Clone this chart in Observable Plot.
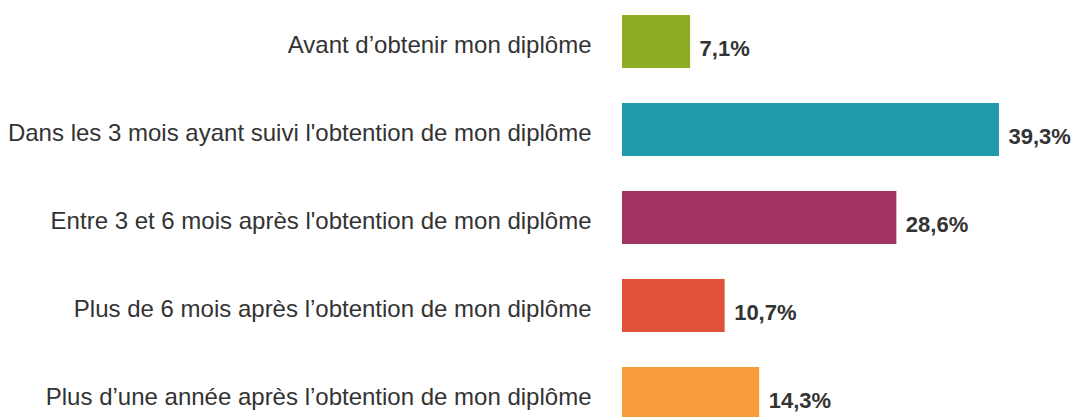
<!DOCTYPE html>
<html><head><meta charset="utf-8">
<script src="https://cdn.jsdelivr.net/npm/d3@7"></script>
<script src="https://cdn.jsdelivr.net/npm/@observablehq/plot@0.6"></script>
<style>html,body{margin:0;padding:0;background:#fff;overflow:hidden}</style>
</head><body><div id="chart"></div>
<script>
const categories = [
  "Avant d\u2019obtenir mon diplôme",
  "Dans les 3 mois ayant suivi l'obtention de mon diplôme",
  "Entre 3 et 6 mois après l'obtention de mon diplôme",
  "Plus de 6 mois après l\u2019obtention de mon diplôme",
  "Plus d\u2019une année après l\u2019obtention de mon diplôme"
];
const values = [7.1, 39.3, 28.6, 10.7, 14.3];
const colors = ["#8cad24", "#219bab", "#a23463", "#df5239", "#f89b3c"];

const data = categories.map((c, i) => ({cat: c, value: values[i], color: colors[i]}));
const fmt = v => v.toFixed(1).replace(".", ",") + "%";

const chart = Plot.plot({
  width: 1072,
  height: 417,
  marginTop: 0, marginBottom: 0, marginLeft: 622, marginRight: 73,
  style: {fontFamily: "'Liberation Sans', Arial, sans-serif", background: "#fff", overflow: "visible"},
  x: {domain: [0, 39.3], range: [622, 999], axis: null},
  y: {domain: categories, range: [13, 423], paddingInner: 0.393, paddingOuter: 0, align: 0.5, label: null},
  marks: [
    Plot.barX(data, {x: "value", y: "cat", fill: "color"}),
    Plot.axisY({tickSize: 0, tickPadding: 31, fontSize: 24, dy: 3, fill: "#333", label: null}),
    Plot.text(data, {x: "value", y: "cat", text: d => fmt(d.value), textAnchor: "start", dx: 9, dy: 7, fontSize: 22, fontWeight: "bold", fill: "#333"})
  ]
});
document.getElementById("chart").appendChild(chart);
</script></body></html>
